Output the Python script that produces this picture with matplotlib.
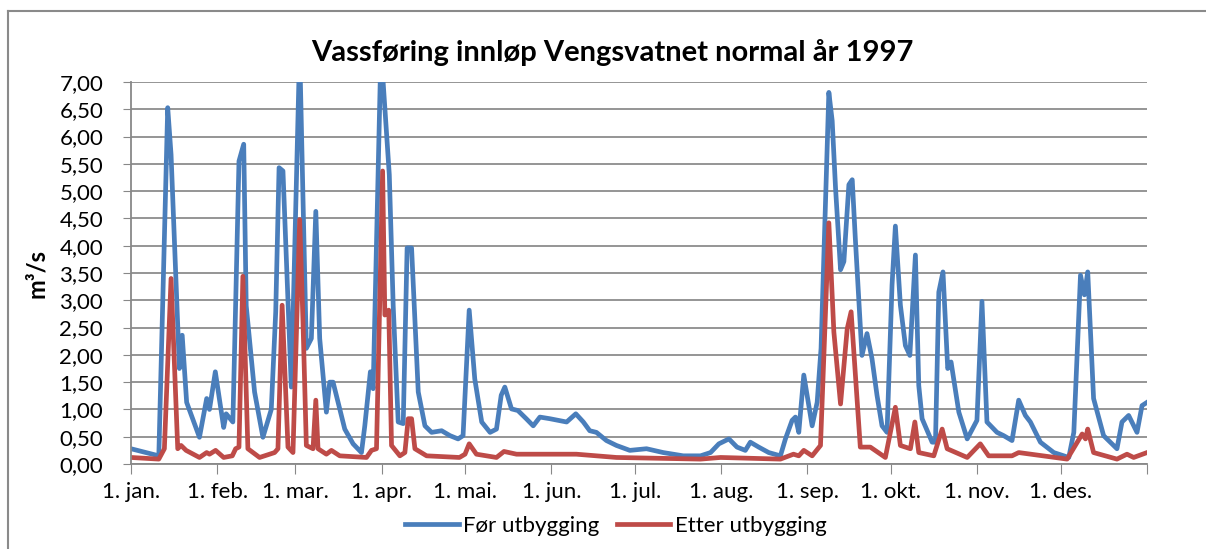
import matplotlib.pyplot as plt
from matplotlib.lines import Line2D

# day of year (0 = 1. jan.) and flow in m3/s
before_days = [0, 10, 13.2, 14.4, 17.4, 18.4, 20, 24.6, 27.2, 28.2, 30.3, 33.3, 34.2, 36.6,
               37.2, 38.8, 40.5, 41.4, 44.4, 47.4, 50.4, 52, 53.2, 54.6, 57.6, 60.6, 63,
               64.8, 66.4, 67.8, 70.2, 71.4, 72.6, 76.8, 79.8, 82.8, 84, 86, 87, 89.8, 92.8,
               94.2, 96, 97.8, 99.2, 100.8, 103.2, 105.6, 108, 111.6, 114.6, 117.5, 119.3,
               121.5, 123.5, 126, 129, 131.3, 133, 134.3, 136.7, 139, 142, 144.5, 146.9,
               150.5, 156.5, 159.8, 162.5, 164.8, 167.2, 170.8, 174.4, 179.2, 185.2, 191.2,
               198.4, 204.6, 208.2, 211.2, 214.8, 217.7, 220.7, 222.5, 225.5, 229.1, 233.3,
               235.1, 237.5, 238.7, 239.9, 241.7, 244.7, 246.5, 247.9, 250.7, 251.9, 253.1,
               254.9, 256.1, 257.9, 259.1, 260.2, 262.6, 264.4, 266.2, 268, 269.8, 271.6,
               273.4, 274.6, 276.4, 278.2, 279.8, 281.8, 283, 284.2, 287.8, 289, 290.2,
               291.7, 293.4, 294.6, 297.4, 300.4, 303.9, 305.7, 307.5, 311.1, 313.5, 316.5,
               318.9, 321.3, 323.1, 326.7, 331.5, 336.9, 338.7, 341.1, 342.5, 343.7, 345.8,
               349.4, 354.2, 356, 358.4, 361.4, 363.2, 365]
before_flow = [0.28, 0.15, 6.53, 5.67, 1.75, 2.36, 1.13, 0.49, 1.2, 1.0, 1.69, 0.67, 0.92, 0.77,
               2.05, 5.55, 5.86, 2.9, 1.32, 0.49, 1.0, 2.79, 5.43, 5.37, 1.41, 7.6, 2.12,
               2.3, 4.63, 2.3, 0.95, 1.5, 1.5, 0.64, 0.37, 0.21, 0.7, 1.69, 1.38, 7.6, 5.3,
               2.9, 0.77, 0.74, 3.96, 3.96, 1.32, 0.7, 0.58, 0.61, 0.52, 0.46, 0.52,
               2.82, 1.56, 0.77, 0.58, 0.64, 1.26, 1.41, 1.01, 0.98, 0.83, 0.7, 0.86,
               0.83, 0.77, 0.92, 0.77, 0.61, 0.58, 0.43, 0.34, 0.25, 0.28, 0.21,
               0.15, 0.15, 0.21, 0.37, 0.46, 0.31, 0.25, 0.4, 0.31, 0.21, 0.15,
               0.46, 0.8, 0.86, 0.58, 1.63, 0.7, 1.13, 2.12, 6.81, 6.29, 5.06,
               3.56, 3.71, 5.12, 5.21, 4.14, 1.99, 2.39, 1.93, 1.26, 0.7, 0.58,
               3.28, 4.36, 2.91, 2.17, 1.99, 3.83, 1.44, 0.83, 0.4, 0.4, 3.15,
               3.52, 1.75, 1.87, 0.95, 0.46, 0.8, 2.98, 0.77, 0.58, 0.52, 0.43,
               1.17, 0.89, 0.77, 0.4, 0.21, 0.12, 0.58, 3.46, 3.1, 3.52, 1.2,
               0.52, 0.28, 0.77, 0.89, 0.58, 1.07, 1.13]

after_days = [0, 10, 12, 14.4, 16.8, 18, 19.8, 24.6, 27.2, 28.2, 30.4, 33.3, 36.4, 37.6, 38.8,
              40.2, 42, 46.2, 51.6, 52.8, 54.3, 56.4, 58.2, 60.6, 61.8, 63, 65.4, 66.4, 67.2,
              70.2, 72, 75, 84.6, 86.4, 88.2, 90.4, 91.2, 92.6, 93.6, 96.6, 98.4, 99.6,
              100.8, 102, 106.2, 118, 120, 121.5, 124.1, 131.3, 134, 138.5, 160, 174.4,
              204.6, 211.8, 233.3, 238, 239.9, 241.7, 244.7, 247.7, 250.7, 252.5, 254.9,
              257.3, 258.7, 262, 265.6, 271, 274.6, 276.4, 280, 281.6, 283, 288.4, 291.4,
              293.2, 300.4, 305.1, 308.1, 316.5, 318.9, 336.3, 341.7, 342.9, 343.7, 345.8,
              354.2, 357.8, 360.2, 365]
after_flow = [0.12, 0.09, 0.28, 3.4, 0.28, 0.34, 0.25, 0.12, 0.21, 0.18, 0.25, 0.12, 0.15, 0.28,
              0.31, 3.44, 0.28, 0.12, 0.21, 0.28, 2.91, 0.31, 0.21, 4.48, 2.6, 0.34, 0.28,
              1.17, 0.28, 0.18, 0.25, 0.15, 0.12, 0.25, 0.28, 5.37, 2.73, 2.82, 0.34, 0.15,
              0.21, 0.83, 0.83, 0.28, 0.15, 0.12, 0.18, 0.37, 0.18, 0.12, 0.23, 0.18, 0.18,
              0.12, 0.09, 0.12, 0.09, 0.18, 0.15, 0.25, 0.15, 0.34, 4.42, 2.42, 1.1, 2.48,
              2.79, 0.31, 0.31, 0.12, 1.04, 0.34, 0.28, 0.77, 0.21, 0.15, 0.64, 0.28, 0.12,
              0.37, 0.15, 0.15, 0.21, 0.09, 0.55, 0.46, 0.64, 0.21, 0.09, 0.18, 0.12, 0.21]

month_starts = [0, 31, 59, 90, 120, 151, 181, 212, 243, 273, 304, 334]
month_labels = ['1. jan.', '1. feb.', '1. mar.', '1. apr.', '1. mai.', '1. jun.',
                '1. jul.', '1. aug.', '1. sep.', '1. okt.', '1. nov.', '1. des.']
y_ticks = [i * 0.5 for i in range(15)]

plt.rcParams['font.family'] = ['Lato', 'DejaVu Sans']

fig = plt.figure(figsize=(12.06, 5.49), dpi=100)
ax = fig.add_axes([0.1086, 0.1548, 0.8425, 0.6958])

blue = '#4A7EBB'
red = '#BE4B48'
ax.plot(before_days, before_flow, color=blue, lw=3.4, label='Før utbygging',
        solid_joinstyle='round')
ax.plot(after_days, after_flow, color=red, lw=3.4, label='Etter utbygging',
        solid_joinstyle='round')

ax.set_xlim(0, 365)
ax.set_ylim(0, 7)
ax.set_yticks(y_ticks)
ax.set_yticklabels([f'{v:.2f}'.replace('.', ',') for v in y_ticks], fontsize=16)
ax.set_xticks(month_starts + [365])
ax.set_xticklabels(month_labels + [''], fontsize=16)
ax.tick_params(axis='x', length=7, color='#888888', pad=6)
ax.tick_params(axis='y', length=6, color='#888888', pad=14)
ax.grid(axis='y', color='#8c8c8c', lw=1.3)
ax.set_axisbelow(True)
for side in ['top', 'right']:
    ax.spines[side].set_visible(False)
for side in ['left', 'bottom']:
    ax.spines[side].set_color('#888888')
    ax.spines[side].set_linewidth(1.3)

ax.set_ylabel('m³/s', fontsize=17, fontweight='bold', labelpad=8)
fig.text(612 / 1206, 1 - 52 / 549, 'Vassføring innløp Vengsvatnet normal år 1997',
         fontsize=21, fontweight='bold', ha='center', va='center')

fig.legend(loc='center', bbox_to_anchor=(616 / 1206, 1 - 526 / 549), ncol=2, frameon=False,
           fontsize=16, handlelength=2.4, columnspacing=0.8, handletextpad=0.2)

# outer chart frame: only the top and left edges are in view
frame_x = 8 / 1206
frame_y = 1 - 11 / 549
fig.add_artist(Line2D([frame_x, 1], [frame_y, frame_y], transform=fig.transFigure,
                      color='#8a8a8a', lw=1.5))
fig.add_artist(Line2D([frame_x, frame_x], [0, frame_y], transform=fig.transFigure,
                      color='#8a8a8a', lw=1.5))

fig.savefig('out.png', dpi=100)
